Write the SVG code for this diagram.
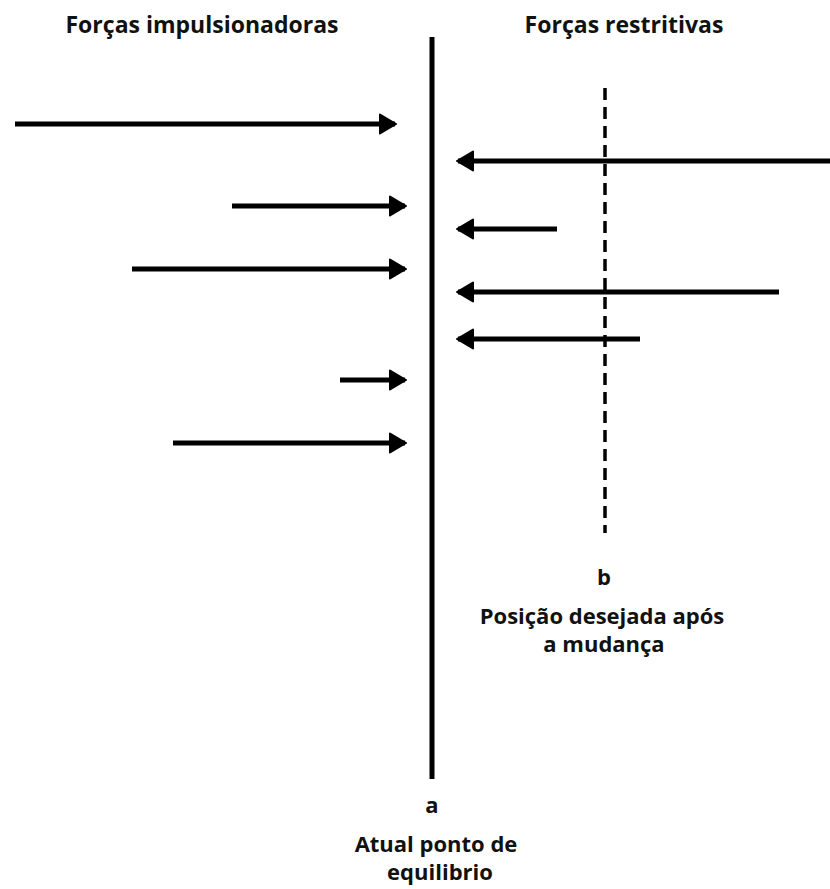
<svg xmlns="http://www.w3.org/2000/svg" width="830" height="889" viewBox="0 0 830 889">
  <style>
    .lbl { font-family: "Open Sans", "Liberation Sans", sans-serif; font-weight: 700; font-size: 22px; fill: #111; text-anchor: middle; }
    .hdr { font-size: 23px; }
    .force { stroke: #000; stroke-width: 5; fill: none; }
    .axis { stroke: #000; stroke-width: 5; fill: none; }
    .target { stroke: #000; stroke-width: 3.5; stroke-dasharray: 12 7; fill: none; }
  </style>
  <defs>
    <marker id="head" viewBox="0 0 18 22" refX="16" refY="11" markerWidth="18" markerHeight="22" markerUnits="userSpaceOnUse" orient="auto">
      <path d="M1 1.5 L17 11 L1 20.5 Z" fill="#000" stroke="#000" stroke-width="2" stroke-linejoin="round"/>
    </marker>
  </defs>
  <rect width="830" height="889" fill="#fff"/>

  <g id="header-driving"><text class="lbl hdr" x="202" y="33">Forças impulsionadoras</text></g>
  <g id="header-restraining"><text class="lbl hdr" x="624" y="33">Forças restritivas</text></g>

  <g id="current-equilibrium">
    <line class="axis" x1="432" y1="37" x2="432" y2="779"/>
    <text class="lbl" x="432" y="813">a</text>
    <text class="lbl" x="436" y="852">Atual ponto de</text>
    <text class="lbl" x="440" y="880">equilibrio</text>
  </g>

  <g id="desired-position">
    <line class="target" x1="605" y1="88" x2="605" y2="533"/>
    <text class="lbl" x="604" y="585">b</text>
    <text class="lbl" x="602" y="624">Posição desejada após</text>
    <text class="lbl" x="604" y="652">a mudança</text>
  </g>

  <g id="connectors">
    <!-- driving forces, pointing right -->
    <line class="force" x1="15" y1="124" x2="395" y2="124" marker-end="url(#head)"/>
    <line class="force" x1="232" y1="206" x2="405" y2="206" marker-end="url(#head)"/>
    <line class="force" x1="132" y1="269" x2="405" y2="269" marker-end="url(#head)"/>
    <line class="force" x1="340" y1="380" x2="405" y2="380" marker-end="url(#head)"/>
    <line class="force" x1="173" y1="443" x2="405" y2="443" marker-end="url(#head)"/>
    <!-- restraining forces, pointing left -->
    <line class="force" x1="830" y1="161" x2="458" y2="161" marker-end="url(#head)"/>
    <line class="force" x1="557" y1="229" x2="458" y2="229" marker-end="url(#head)"/>
    <line class="force" x1="779" y1="292" x2="458" y2="292" marker-end="url(#head)"/>
    <line class="force" x1="640" y1="339" x2="458" y2="339" marker-end="url(#head)"/>
  </g>
</svg>
